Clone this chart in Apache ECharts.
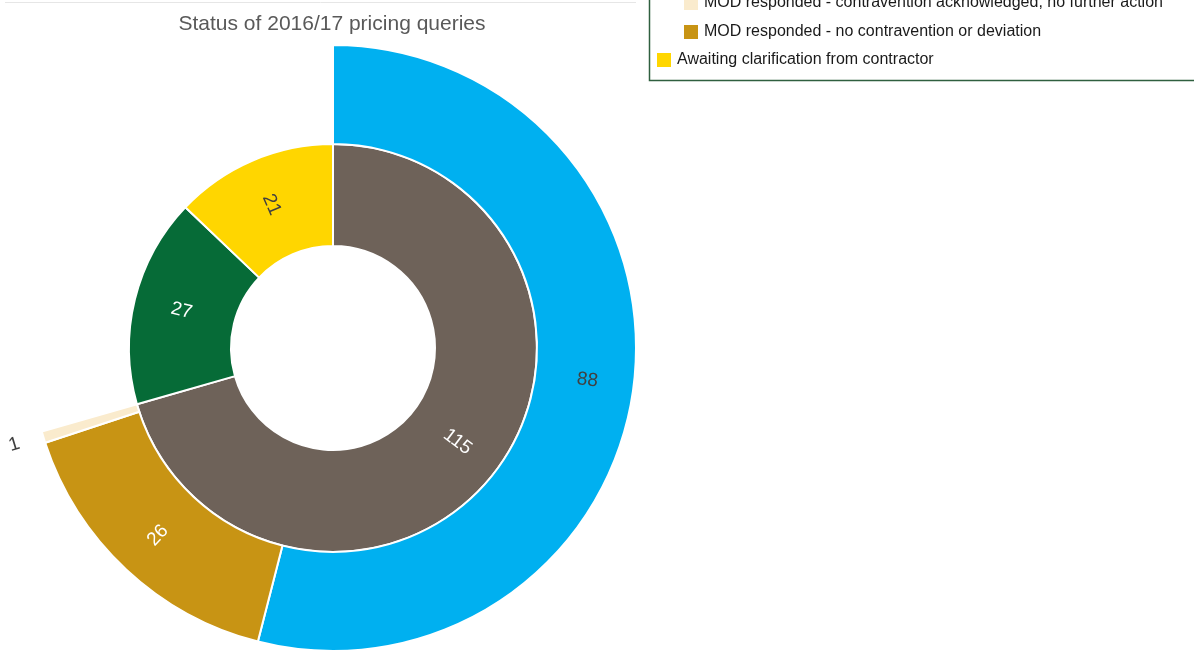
<!DOCTYPE html>
<html>
<head>
<meta charset="utf-8">
<script src="https://cdn.jsdelivr.net/npm/echarts@6/dist/echarts.min.js"></script>
<style>
  html, body { margin: 0; padding: 0; background: #fff; }
  #chart { width: 1194px; height: 655px; }
</style>
</head>
<body>
<div id="chart"></div>
<script>
// Inner ring: top-level query status
const innerNames = ['MOD responded', 'Awaiting MOD response', 'Awaiting clarification from contractor'];
const innerValues = [115, 27, 21];
const innerColors = ['#6e6259', '#066b37', '#ffd600'];
const innerLabelColors = ['#ffffff', '#ffffff', '#404040'];

// Outer ring: breakdown of the MOD responded segment
const outerNames = [
  'MOD responded - further action',
  'MOD responded - no contravention or deviation',
  'MOD responded - contravention acknowledged, no further action'
];
const outerValues = [88, 26, 1];
const outerColors = ['#00b0f0', '#c89414', '#faebcd'];
const outerLabelColors = ['#404040', '#ffffff', '#404040'];

const chart = echarts.init(document.getElementById('chart'), null, { renderer: 'canvas' });

const labelFont = { fontFamily: 'Liberation Sans, Arial, sans-serif', fontSize: 19 };

const innerData = innerValues.map((v, i) => ({
  name: innerNames[i],
  value: v,
  itemStyle: { color: innerColors[i] },
  label: { color: innerLabelColors[i] }
}));

const outerData = outerValues.map((v, i) => ({
  name: outerNames[i],
  value: v,
  itemStyle: { color: outerColors[i] },
  label: i === 2
    ? { color: outerLabelColors[i], position: 'outside' }
    : { color: outerLabelColors[i] }
}));
// the two segments without a breakdown leave the outer ring empty
innerValues.slice(1).forEach((v, i) => {
  outerData.push({
    name: 'gap' + i,
    value: v,
    itemStyle: { color: 'rgba(0,0,0,0)', borderWidth: 0 },
    label: { show: false },
    labelLine: { show: false },
    emphasis: { disabled: true },
    tooltip: { show: false }
  });
});

const legendText = { fontFamily: 'Liberation Sans, Arial, sans-serif', fontSize: 16, color: '#1a1a1a', lineHeight: 16 };

const option = {
  backgroundColor: '#ffffff',
  animation: false,
  title: {
    text: 'Status of 2016/17 pricing queries',
    left: 327,
    textAlign: 'center',
    top: 9,
    textStyle: {
      fontFamily: 'Liberation Sans, Arial, sans-serif',
      fontSize: 21,
      fontWeight: 'normal',
      color: '#595959'
    }
  },
  legend: [
    {
      orient: 'vertical',
      left: 677,
      top: -11,
      itemWidth: 16,
      itemHeight: 16,
      itemGap: 11,
      icon: 'rect',
      selectedMode: false,
      data: [outerNames[2], outerNames[1]],
      textStyle: legendText
    },
    {
      orient: 'vertical',
      left: 650,
      top: 46,
      itemWidth: 16,
      itemHeight: 16,
      icon: 'rect',
      selectedMode: false,
      data: [innerNames[2]],
      textStyle: legendText
    }
  ],
  graphic: [
    {
      type: 'line',
      shape: { x1: 5, y1: 2.5, x2: 636, y2: 2.5 },
      style: { stroke: '#e6e6e6', lineWidth: 1 },
      silent: true
    },
    {
      type: 'rect',
      shape: { x: 649.5, y: -40, width: 600, height: 120.5 },
      style: { fill: 'none', stroke: '#2f5f3f', lineWidth: 1.5 },
      silent: true
    }
  ],
  series: [
    {
      type: 'pie',
      center: [333, 348],
      radius: [102, 204],
      startAngle: 90,
      clockwise: true,
      avoidLabelOverlap: false,
      itemStyle: { borderColor: '#ffffff', borderWidth: 2 },
      label: {
        show: true,
        position: 'inside',
        rotate: 'radial',
        formatter: '{c}',
        ...labelFont
      },
      labelLine: { show: false },
      data: innerData
    },
    {
      type: 'pie',
      center: [333, 348],
      radius: [204, 303],
      startAngle: 90,
      clockwise: true,
      avoidLabelOverlap: false,
      itemStyle: { borderColor: '#ffffff', borderWidth: 2 },
      label: {
        show: true,
        position: 'inside',
        rotate: 'radial',
        formatter: '{c}',
        ...labelFont
      },
      labelLine: { show: false, length: 20, length2: 0 },
      data: outerData
    }
  ]
};

chart.setOption(option);
</script>
</body>
</html>
